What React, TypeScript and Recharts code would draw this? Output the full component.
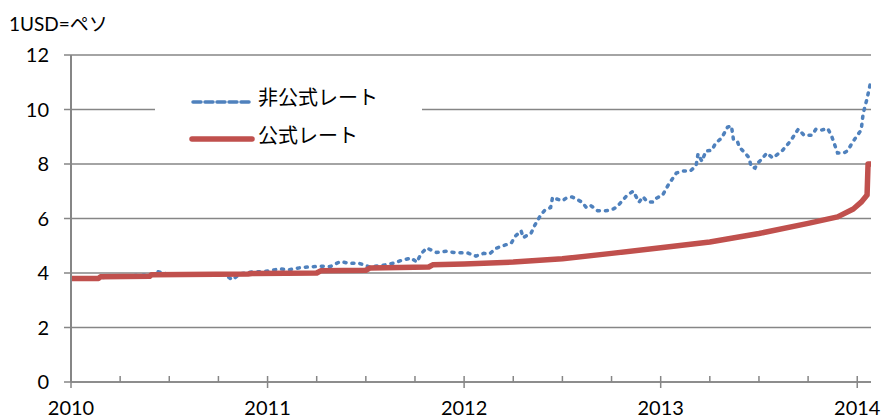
import { LineChart, Line, XAxis, YAxis, CartesianGrid } from 'recharts';

// fractional year / pesos per USD
const unofficialT = [
  2010.0, 2010.1, 2010.2, 2010.3, 2010.4, 2010.44, 2010.5, 2010.66, 2010.78, 2010.82, 2010.86, 2010.91, 2010.96,
  2011.01, 2011.06, 2011.11, 2011.17, 2011.27, 2011.32, 2011.37, 2011.42, 2011.46, 2011.52, 2011.6, 2011.65, 2011.68,
  2011.73, 2011.76, 2011.78, 2011.81, 2011.83, 2011.86, 2011.91, 2011.95,
  2012.02, 2012.06, 2012.1, 2012.13, 2012.16, 2012.21, 2012.24, 2012.26, 2012.29, 2012.3, 2012.34, 2012.36, 2012.39,
  2012.41, 2012.44, 2012.45, 2012.47, 2012.5, 2012.52, 2012.55, 2012.6, 2012.62, 2012.64, 2012.68, 2012.72, 2012.76,
  2012.78, 2012.83, 2012.86, 2012.89, 2012.91, 2012.93, 2012.96, 2012.98,
  2013.01, 2013.04, 2013.08, 2013.11, 2013.15, 2013.18, 2013.19, 2013.21, 2013.23, 2013.26, 2013.28, 2013.31, 2013.34,
  2013.36, 2013.37, 2013.39, 2013.4, 2013.43, 2013.45, 2013.46, 2013.48, 2013.49, 2013.51, 2013.54, 2013.57, 2013.62,
  2013.66, 2013.7, 2013.73, 2013.77, 2013.79, 2013.82, 2013.85, 2013.87, 2013.9, 2013.93, 2013.95, 2013.98,
  2014.02, 2014.03, 2014.05, 2014.065,
];
const unofficialRate = [
  3.78, 3.8, 3.86, 3.9, 3.92, 4.05, 3.95, 3.95, 3.96, 3.75, 3.97, 4.03, 4.05,
  4.08, 4.15, 4.12, 4.2, 4.25, 4.24, 4.42, 4.35, 4.37, 4.22, 4.3, 4.38, 4.46,
  4.55, 4.4, 4.7, 4.92, 4.85, 4.75, 4.8, 4.75,
  4.73, 4.62, 4.72, 4.7, 4.9, 5.03, 5.1, 5.35, 5.55, 5.3, 5.45, 5.76, 6.13,
  6.3, 6.4, 6.78, 6.72, 6.65, 6.75, 6.79, 6.6, 6.42, 6.5, 6.28, 6.28, 6.35,
  6.45, 6.86, 7.0, 6.6, 6.8, 6.62, 6.6, 6.75,
  6.86, 7.25, 7.67, 7.74, 7.74, 7.93, 8.37, 8.1, 8.48, 8.5, 8.77, 8.95, 9.35,
  9.4, 8.9, 8.84, 8.62, 8.4, 8.22, 7.9, 7.85, 8.0, 8.15, 8.4, 8.22, 8.5,
  8.84, 9.28, 9.05, 9.06, 9.28, 9.25, 9.3, 9.02, 8.4, 8.4, 8.48, 8.84,
  9.25, 9.85, 10.4, 10.9,
];
const officialT = [
  2010.0, 2010.14, 2010.15, 2010.4, 2010.41, 2010.9, 2010.92, 2011.25, 2011.27, 2011.5, 2011.52, 2011.82, 2011.84,
  2012.0, 2012.25, 2012.5, 2012.75, 2013.0, 2013.25, 2013.5, 2013.75, 2013.9, 2013.98, 2014.02, 2014.05, 2014.055, 2014.065,
];
const officialRate = [
  3.8, 3.8, 3.86, 3.88, 3.94, 3.96, 3.98, 4.0, 4.08, 4.1, 4.18, 4.22, 4.3,
  4.33, 4.4, 4.52, 4.72, 4.93, 5.14, 5.45, 5.82, 6.06, 6.35, 6.6, 6.86, 8.0, 8.0,
];
const yTicks = [0, 2, 4, 6, 8, 10, 12];
const quarterTicks = [
  2010, 2010.25, 2010.5, 2010.75, 2011, 2011.25, 2011.5, 2011.75, 2012, 2012.25, 2012.5, 2012.75,
  2013, 2013.25, 2013.5, 2013.75, 2014,
];

const FONT = "Lato, 'Noto Sans CJK JP', sans-serif";
const GRID = '#868686';
const BLUE = '#4F81BD';
const RED = '#C0504D';

const unofficialData = unofficialT.map((t, i) => ({ t, rate: unofficialRate[i] }));
const officialData = officialT.map((t, i) => ({ t, rate: officialRate[i] }));

const XTick = (props: any) => {
  const { x, y, payload } = props;
  const isYear = Number.isInteger(payload.value);
  return (
    <g>
      <line x1={x} x2={x} y1={y - 6} y2={isYear ? y + 6 : y} stroke={GRID} strokeWidth={1.5} />
      {isYear && (
        <text x={x} y={y + 33} textAnchor="middle" fontSize={20} fill="#000" fontFamily={FONT}>
          {payload.value}
        </text>
      )}
    </g>
  );
};

const App = () => {
  return (
    <div style={{ position: 'absolute', left: 0, top: 0, width: 881, height: 419, background: '#fff', fontFamily: FONT }}>
      <LineChart width={881} height={419} margin={{ top: 55, right: 10, left: 0, bottom: 0 }}>
        <CartesianGrid vertical={false} stroke={GRID} strokeWidth={1.5} />
        <XAxis
          type="number"
          dataKey="t"
          domain={[2010, 2014.07]}
          ticks={quarterTicks}
          interval={0}
          allowDataOverflow
          height={37}
          tickSize={0}
          tickMargin={0}
          tickLine={false}
          axisLine={{ stroke: GRID, strokeWidth: 1.5 }}
          tick={<XTick />}
        />
        <YAxis
          type="number"
          domain={[0, 12]}
          ticks={yTicks}
          interval={0}
          width={71}
          tickSize={7}
          tickMargin={15}
          tickLine={{ stroke: GRID, strokeWidth: 1.5 }}
          axisLine={{ stroke: GRID, strokeWidth: 2 }}
          tick={{ fontSize: 20, fill: '#000', fontFamily: FONT }}
        />
        <Line
          data={unofficialData}
          dataKey="rate"
          type="linear"
          stroke={BLUE}
          strokeWidth={3.5}
          strokeDasharray="2 6"
          strokeLinecap="round"
          dot={false}
          isAnimationActive={false}
        />
        <Line
          data={officialData}
          dataKey="rate"
          type="linear"
          stroke={RED}
          strokeWidth={5.5}
          strokeLinecap="round"
          strokeLinejoin="round"
          dot={false}
          isAnimationActive={false}
        />
      </LineChart>
      <div style={{ position: 'absolute', left: 9, top: 11, fontSize: 19, lineHeight: '26px', color: '#000' }}>1USD=ペソ</div>
      <svg style={{ position: 'absolute', left: 155, top: 78 }} width={267} height={76}>
        <rect x={0} y={0} width={267} height={76} fill="#fff" />
        <line x1={38} x2={96} y1={24} y2={24} stroke={BLUE} strokeWidth={3.5} strokeDasharray="8 4" strokeLinecap="round" />
        <text x={103} y={19} dominantBaseline="central" fontSize={20} fontFamily={FONT} fill="#000">非公式レート</text>
        <line x1={37} x2={97} y1={61} y2={61} stroke={RED} strokeWidth={5.5} strokeLinecap="round" />
        <text x={103} y={57} dominantBaseline="central" fontSize={20} fontFamily={FONT} fill="#000">公式レート</text>
      </svg>
    </div>
  );
};

export default App;
